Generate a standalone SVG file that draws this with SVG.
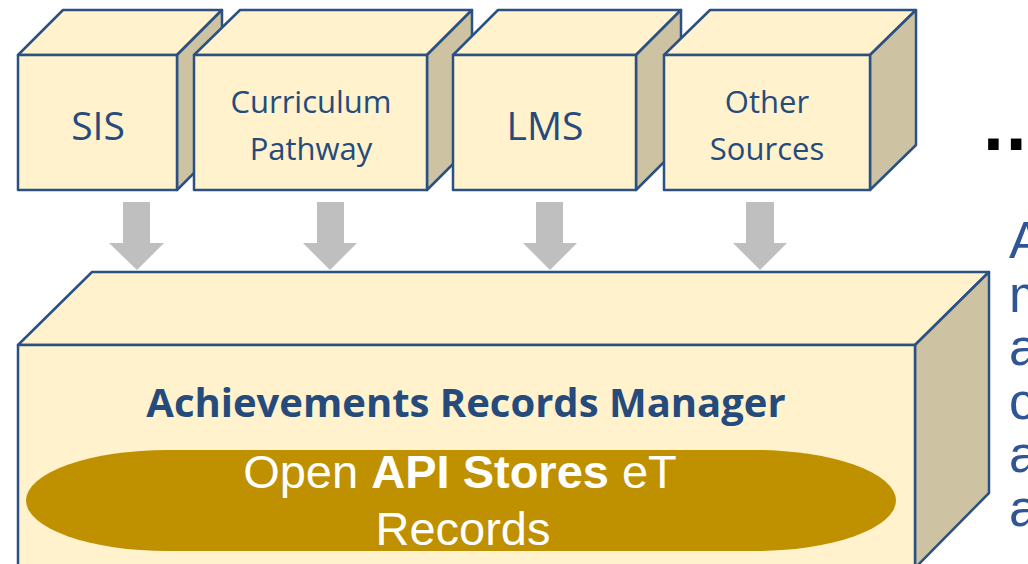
<svg xmlns="http://www.w3.org/2000/svg" width="1028" height="564" viewBox="0 0 1028 564">
<style>
.front{fill:#FFF2CC;stroke:#2B5183;stroke-width:2.5;stroke-linejoin:round}
.side{fill:#CDC3A3;stroke:#2B5183;stroke-width:2.5;stroke-linejoin:round}
.lbl{font-family:"Open Sans","Noto Sans",sans-serif;fill:#244B7C;text-anchor:middle}
.arrow{fill:#BFBFBF}
.gold{font-family:"Liberation Sans",Arial,sans-serif;fill:#FFFFFF;font-size:47px;text-anchor:middle}
.side-txt{font-family:"Liberation Sans",Arial,sans-serif;fill:#2F5597;font-size:52px}
</style>
<rect width="1028" height="564" fill="#FFFFFF"/>

<g id="connectors">
  <polygon class="arrow" points="123,202 150,202 150,243 164,243 137,270 109,243 123,243"/>
  <polygon class="arrow" points="317,202 344,202 344,243 357,243 330,270 303,243 317,243"/>
  <polygon class="arrow" points="536,202 563,202 563,243 577,243 550,270 523,243 536,243"/>
  <polygon class="arrow" points="746,202 774,202 774,243 787,243 760,270 733,243 746,243"/>
</g>

<g id="node-sis">
  <polygon class="front" points="18,55 63,10 222,10 177,55"/>
  <polygon class="side" points="177,55 222,10 222,145 177,190"/>
  <rect class="front" x="18" y="55" width="159" height="135"/>
  <text class="lbl" x="98" y="140" font-size="39">SIS</text>
</g>

<g id="node-curriculum">
  <polygon class="front" points="194,55 240,10 472,10 427,55"/>
  <polygon class="side" points="427,55 472,10 472,145 427,190"/>
  <rect class="front" x="194" y="55" width="233" height="135"/>
  <text class="lbl" x="311" y="113" font-size="31">Curriculum</text>
  <text class="lbl" x="311" y="160" font-size="31">Pathway</text>
</g>

<g id="node-lms">
  <polygon class="front" points="453,55 498,10 681,10 636,55"/>
  <polygon class="side" points="636,55 681,10 681,145 636,190"/>
  <rect class="front" x="453" y="55" width="183" height="135"/>
  <text class="lbl" x="545" y="140" font-size="39">LMS</text>
</g>

<g id="node-other">
  <polygon class="front" points="664,55 710,10 916,10 870,55"/>
  <polygon class="side" points="870,55 916,10 916,145 870,190"/>
  <rect class="front" x="664" y="55" width="206" height="135"/>
  <text class="lbl" x="767" y="113" font-size="31">Other</text>
  <text class="lbl" x="767" y="160" font-size="31">Sources</text>
</g>

<g id="node-manager">
  <polygon class="front" points="18,345 92,272 989,272 915,345"/>
  <polygon class="side" points="915,345 989,272 989,493 915,568"/>
  <rect class="front" x="18" y="345" width="897" height="225"/>
  <text class="lbl" x="466" y="417" font-size="40" font-weight="bold" fill="#1F4E79">Achievements Records Manager</text>
  <g id="node-store">
    <rect x="26" y="450" width="870" height="101" rx="142" ry="50.5" fill="#BF9000"/>
    <text class="gold" x="460" y="488">Open <tspan font-weight="bold">API Stores</tspan> eT</text>
    <text class="gold" x="463" y="545">Records</text>
  </g>
</g>

<g id="node-more">
  <text x="982" y="150" font-family="DejaVu Sans,sans-serif" font-weight="bold" font-size="60" fill="#000000">...</text>
</g>

<g id="node-side-text">
  <text class="side-txt" x="1009" y="258">A</text>
  <text class="side-txt" x="1009" y="312">m</text>
  <text class="side-txt" x="1009" y="365">a</text>
  <text class="side-txt" x="1009" y="419">c</text>
  <text class="side-txt" x="1009" y="472">a</text>
  <text class="side-txt" x="1009" y="526">a</text>
</g>
</svg>
